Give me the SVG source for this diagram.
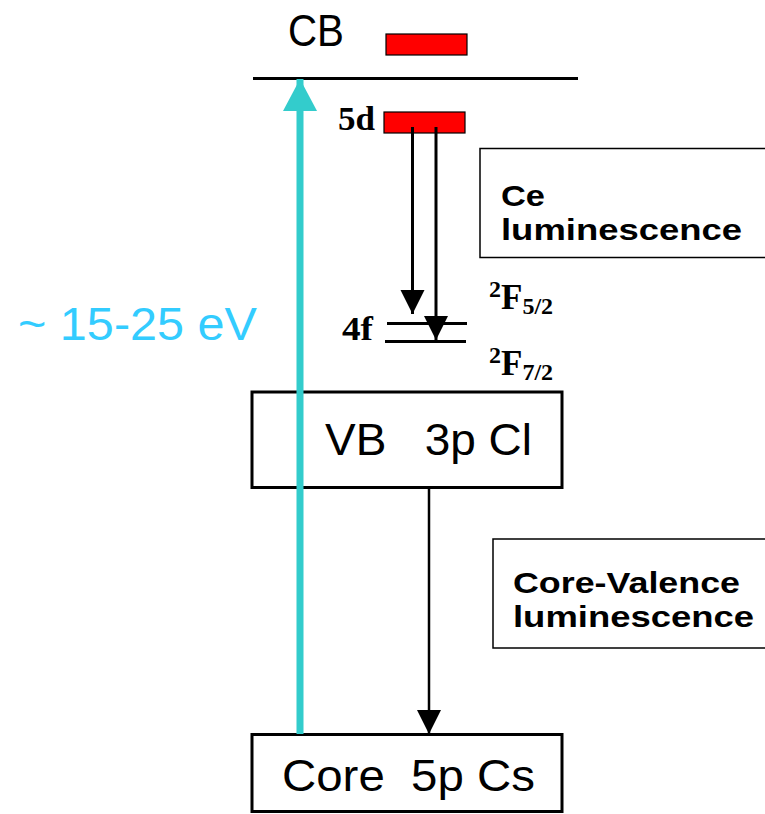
<svg xmlns="http://www.w3.org/2000/svg" width="765" height="814" viewBox="0 0 765 814">
<style>
.sans{font-family:"Liberation Sans",Arial,sans-serif;fill:#000}
.big{font-size:45px}
.bold{font-family:"Liberation Sans",Arial,sans-serif;font-weight:bold;font-size:30px;fill:#000}
.serif{font-family:"Liberation Serif","Times New Roman",serif;font-weight:bold;fill:#000}
.box{fill:#fff;stroke:#000;stroke-width:3}
.thin{fill:#fff;stroke:#000;stroke-width:1.5}
.red{fill:#ff0000;stroke:#000;stroke-width:1.2}
.lvl{stroke:#000;stroke-width:3;fill:none}
</style>
<defs>
<marker id="ah" markerUnits="userSpaceOnUse" markerWidth="26" markerHeight="25" refX="25" refY="12.5" orient="auto" viewBox="0 0 25 26">
<path d="M0,0 L25,12.5 L0,25 Z" fill="#000"/>
</marker>
<marker id="ahc" markerUnits="userSpaceOnUse" markerWidth="32" markerHeight="34" refX="32" refY="17" orient="auto" viewBox="0 0 32 34">
<path d="M0,0 L32,17 L0,34 Z" fill="#33cccc"/>
</marker>
</defs>
<g id="cb-level">
<text class="sans big" x="288" y="46" textLength="56" lengthAdjust="spacingAndGlyphs">CB</text>
<rect class="red" x="386" y="34" width="81" height="21"/>
<line class="lvl" x1="253" y1="78.5" x2="578" y2="78.5"/>
</g>
<g id="ce-5d">
<text class="serif" font-size="33" x="338" y="130" textLength="37" lengthAdjust="spacingAndGlyphs">5d</text>
<rect class="red" x="384" y="112" width="81" height="21"/>
</g>
<g id="ce-4f">
<text class="serif" font-size="33" x="342" y="340" textLength="31" lengthAdjust="spacingAndGlyphs">4f</text>
<line class="lvl" x1="387" y1="323.5" x2="467" y2="323.5"/>
<line class="lvl" x1="385" y1="341.5" x2="466" y2="341.5"/>
<text class="serif" font-size="35" x="489" y="309"><tspan font-size="24" dy="-12">2</tspan><tspan dy="12">F</tspan><tspan font-size="24" dy="5">5/2</tspan></text>
<text class="serif" font-size="35" x="489" y="375"><tspan font-size="24" dy="-12">2</tspan><tspan dy="12">F</tspan><tspan font-size="24" dy="5">7/2</tspan></text>
</g>
<g id="ce-lum">
<rect class="thin" x="480" y="148.5" width="300" height="109"/>
<text class="bold" x="501" y="205.5" textLength="44" lengthAdjust="spacingAndGlyphs">Ce</text>
<text class="bold" x="501" y="239.5" textLength="241" lengthAdjust="spacingAndGlyphs">luminescence</text>
</g>
<g id="vb">
<rect class="box" x="252" y="392" width="310" height="95.5"/>
<text class="sans big" x="325" y="455" textLength="207" lengthAdjust="spacingAndGlyphs" xml:space="preserve">VB   3p Cl</text>
</g>
<g id="core">
<rect class="box" x="252" y="734.5" width="310" height="77"/>
<text class="sans big" x="282" y="790.5" textLength="253" lengthAdjust="spacingAndGlyphs" xml:space="preserve">Core  5p Cs</text>
</g>
<g id="cv-lum">
<rect class="thin" x="493" y="539" width="300" height="109"/>
<text class="bold" x="513" y="593" textLength="227" lengthAdjust="spacingAndGlyphs">Core-Valence</text>
<text class="bold" x="513" y="627" textLength="241" lengthAdjust="spacingAndGlyphs">luminescence</text>
</g>
<g id="energy-label">
<text class="sans" font-size="46" x="18" y="340" fill="#33ccff" style="fill:#33ccff" textLength="239" lengthAdjust="spacingAndGlyphs">~ 15-25 eV</text>
</g>
<g id="connectors">
<line x1="300" y1="734" x2="300" y2="79" stroke="#33cccc" stroke-width="7" marker-end="url(#ahc)"/>
<line x1="412.5" y1="127" x2="412.5" y2="314" stroke="#000" stroke-width="3" marker-end="url(#ah)"/>
<line x1="436" y1="127" x2="436" y2="340" stroke="#000" stroke-width="3" marker-end="url(#ah)"/>
<line x1="429" y1="487" x2="429" y2="734" stroke="#000" stroke-width="2.5" marker-end="url(#ah)"/>
</g>
</svg>
